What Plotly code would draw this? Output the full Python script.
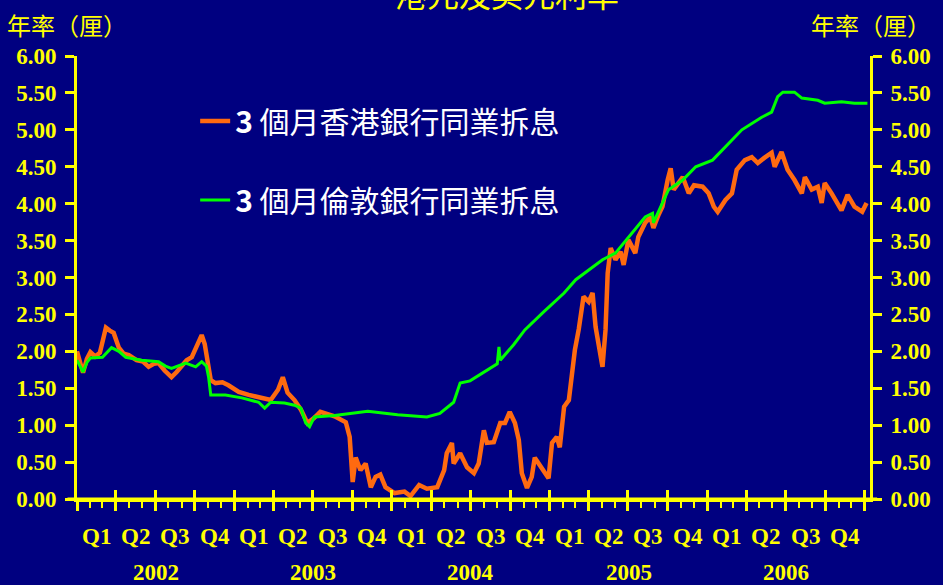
import plotly.graph_objects as go
import pandas as pd

# ---- data ----
hibor_dates = [
    "2002-01-01","2002-01-08","2002-01-15","2002-01-24","2002-02-01","2002-02-12","2002-02-23","2002-03-02",
    "2002-03-09","2002-03-18","2002-03-27","2002-04-08","2002-04-19","2002-05-01","2002-05-19","2002-06-03",
    "2002-06-16","2002-06-28","2002-07-09","2002-07-23","2002-08-08","2002-08-20","2002-08-29","2002-09-12",
    "2002-09-24","2002-10-05","2002-10-17","2002-10-24","2002-10-28","2002-11-07","2002-11-18","2002-12-04",
    "2002-12-18","2003-01-11","2003-02-03","2003-03-03","2003-03-26","2003-04-12","2003-04-23","2003-05-04",
    "2003-05-20","2003-06-04","2003-06-19","2003-07-05","2003-07-19","2003-08-05","2003-08-21","2003-09-16",
    "2003-09-25","2003-10-02","2003-10-09","2003-10-20","2003-11-01","2003-11-13","2003-11-24","2003-12-05",
    "2003-12-17","2004-01-07","2004-01-30","2004-02-13","2004-03-04","2004-03-22","2004-04-15","2004-05-01",
    "2004-05-07","2004-05-19","2004-05-23","2004-06-07","2004-06-23","2004-07-09","2004-07-20","2004-08-01",
    "2004-08-08","2004-08-24","2004-09-08","2004-09-19","2004-09-30","2004-10-12","2004-10-21","2004-10-28",
    "2004-11-09","2004-11-20","2004-11-27","2004-12-06","2004-12-17","2004-12-29","2005-01-06","2005-01-17",
    "2005-01-24","2005-02-03","2005-02-14","2005-02-21","2005-02-28","2005-03-09","2005-03-20","2005-04-01",
    "2005-04-10","2005-04-17","2005-04-29","2005-05-03","2005-05-10","2005-05-15","2005-05-22","2005-06-02",
    "2005-06-14","2005-06-21","2005-07-02","2005-07-11","2005-07-18","2005-07-25","2005-08-10","2005-08-22",
    "2005-08-29","2005-09-10","2005-09-19","2005-10-01","2005-10-08","2005-10-15","2005-11-05","2005-11-19",
    "2005-12-01","2005-12-21","2006-01-04","2006-01-16","2006-01-25","2006-02-12","2006-02-27","2006-03-10",
    "2006-03-29","2006-04-14","2006-04-28","2006-05-13","2006-05-30","2006-06-06","2006-06-22","2006-07-06",
    "2006-07-22","2006-08-08","2006-08-15","2006-08-31","2006-09-14","2006-09-23","2006-09-30","2006-10-16",
    "2006-11-08","2006-11-22","2006-12-08","2006-12-26","2007-01-05",
]
hibor_vals = [
    2.00, 1.85, 1.71, 1.90, 1.99, 1.93, 1.98, 2.15,
    2.32, 2.28, 2.25, 2.05, 1.97, 1.95, 1.88, 1.86,
    1.79, 1.83, 1.84, 1.74, 1.65, 1.72, 1.79, 1.88,
    1.92, 2.05, 2.22, 2.10, 1.98, 1.61, 1.57, 1.58,
    1.54, 1.45, 1.41, 1.37, 1.34, 1.48, 1.65, 1.44,
    1.34, 1.21, 1.03, 1.10, 1.18, 1.15, 1.12, 1.04,
    0.84, 0.23, 0.56, 0.39, 0.48, 0.16, 0.30, 0.33,
    0.16, 0.08, 0.10, 0.04, 0.19, 0.14, 0.16, 0.39,
    0.62, 0.76, 0.48, 0.62, 0.43, 0.35, 0.48, 0.93,
    0.76, 0.77, 1.03, 1.03, 1.18, 1.03, 0.80, 0.35,
    0.15, 0.30, 0.56, 0.48, 0.39, 0.28, 0.76, 0.84,
    0.70, 1.25, 1.34, 1.75, 2.02, 2.30, 2.74, 2.67,
    2.79, 2.33, 1.88, 1.79, 2.29, 3.06, 3.40, 3.24,
    3.35, 3.17, 3.51, 3.41, 3.33, 3.55, 3.74, 3.82,
    3.67, 3.85, 3.96, 4.32, 4.48, 4.19, 4.36, 4.14,
    4.25, 4.23, 4.14, 3.96, 3.89, 4.05, 4.14, 4.46,
    4.59, 4.63, 4.55, 4.62, 4.69, 4.50, 4.70, 4.46,
    4.32, 4.14, 4.36, 4.19, 4.23, 4.01, 4.28, 4.14,
    3.91, 4.12, 3.96, 3.89, 4.01,
]

libor_dates = [
    "2002-01-01","2002-01-15","2002-01-24","2002-02-01","2002-03-01","2002-03-22","2002-04-08","2002-04-24",
    "2002-05-31","2002-07-09","2002-07-25","2002-08-08","2002-09-10","2002-10-03","2002-10-17","2002-10-28",
    "2002-11-02","2002-11-07","2002-12-11","2003-01-18","2003-02-26","2003-03-12","2003-03-26","2003-04-27",
    "2003-05-20","2003-06-04","2003-06-15","2003-06-24","2003-07-05","2003-08-21","2003-11-06","2004-01-14",
    "2004-03-22","2004-04-21","2004-05-23","2004-06-07","2004-06-30","2004-08-01","2004-09-01","2004-09-05",
    "2004-09-08","2004-10-09","2004-11-04","2004-12-17","2005-02-03","2005-03-02","2005-04-01","2005-05-03",
    "2005-06-02","2005-07-11","2005-08-10","2005-08-27","2005-08-29","2005-09-19","2005-10-03","2005-11-05",
    "2005-12-05","2006-01-13","2006-02-12","2006-03-22","2006-05-07","2006-05-30","2006-06-13","2006-06-25",
    "2006-07-22","2006-08-08","2006-09-14","2006-09-30","2006-11-08","2006-12-08","2007-01-07",
]
libor_vals = [
    1.88, 1.72, 1.85, 1.91, 1.92, 2.05, 2.00, 1.92,
    1.88, 1.86, 1.80, 1.77, 1.84, 1.79, 1.86, 1.80,
    1.65, 1.41, 1.41, 1.37, 1.31, 1.23, 1.31, 1.30,
    1.27, 1.23, 1.03, 0.98, 1.11, 1.13, 1.19, 1.14,
    1.11, 1.16, 1.31, 1.57, 1.60, 1.72, 1.83, 2.06,
    1.88, 2.09, 2.29, 2.53, 2.79, 2.97, 3.10, 3.24,
    3.33, 3.60, 3.82, 3.87, 3.74, 4.01, 4.19, 4.32,
    4.50, 4.59, 4.77, 5.00, 5.17, 5.24, 5.45, 5.51,
    5.51, 5.43, 5.40, 5.36, 5.38, 5.36, 5.36,
]

years = [2002, 2003, 2004, 2005, 2006]
quarter_labels = ["Q1", "Q2", "Q3", "Q4"]
y_ticks = [0.0, 0.5, 1.0, 1.5, 2.0, 2.5, 3.0, 3.5, 4.0, 4.5, 5.0, 5.5, 6.0]

series_names = ["<b>3</b> 個月香港銀行同業拆息", "<b>3</b> 個月倫敦銀行同業拆息"]
title_text = "港元及美元利率"
axis_title = "年率（厘）"

# ---- styling ----
BG = "#000080"
YEL = "#FFFF00"
SERIF = "Liberation Serif"
CJK = "Noto Sans CJK TC"
x_range = ["2002-01-01", "2007-01-13"]

fig = go.Figure()
fig.add_trace(go.Scatter(
    x=hibor_dates, y=hibor_vals, mode="lines", name=series_names[0],
    line=dict(color="#FF6A10", width=4.5), legendgroup="a",
    xaxis="x", yaxis="y",
))
fig.add_trace(go.Scatter(
    x=libor_dates, y=libor_vals, mode="lines", name=series_names[1],
    line=dict(color="#00FF00", width=3), legendgroup="b",
    xaxis="x2", yaxis="y2",
))

# quarter and year labels
annotations = []
for yr in years:
    for qi, ql in enumerate(quarter_labels):
        start = pd.Timestamp(year=yr, month=3 * qi + 1, day=1)
        end = start + pd.DateOffset(months=3)
        mid = start + (end - start) / 2
        annotations.append(dict(
            x=mid.strftime("%Y-%m-%d %H:%M"), xref="x", y=-0.084, yref="paper",
            yanchor="middle", text=ql, showarrow=False,
            font=dict(family=SERIF, size=23, color=YEL, weight="bold"),
        ))
    ys = pd.Timestamp(year=yr, month=1, day=1)
    ye = pd.Timestamp(year=yr + 1, month=1, day=1)
    ymid = ys + (ye - ys) / 2
    annotations.append(dict(
        x=ymid.strftime("%Y-%m-%d %H:%M"), xref="x", y=-0.167, yref="paper",
        yanchor="middle", text=str(yr), showarrow=False,
        font=dict(family=SERIF, size=23, color=YEL, weight="bold"),
    ))

annotations.append(dict(
    x=-0.091, xref="paper", y=1.07, yref="paper", xanchor="left", yanchor="middle",
    text=axis_title, showarrow=False, font=dict(family=CJK, size=24, color=YEL),
))
annotations.append(dict(
    x=1.08, xref="paper", y=1.07, yref="paper", xanchor="right", yanchor="middle",
    text=axis_title, showarrow=False, font=dict(family=CJK, size=24, color=YEL),
))
annotations.append(dict(
    x=0.542, xref="paper", y=1.142, yref="paper", xanchor="center", yanchor="middle",
    text=title_text, showarrow=False, font=dict(family=CJK, size=32, color=YEL),
))

yaxis_common = dict(
    range=[0, 6], tickvals=y_ticks, tickformat=".2f",
    showline=True, linecolor=YEL, linewidth=3,
    ticks="outside", ticklen=9, tickwidth=3, tickcolor=YEL,
    showgrid=False, zeroline=False, fixedrange=True,
    tickfont=dict(family=SERIF, size=23, color=YEL, weight="bold"),
    ticklabelstandoff=4,
)

fig.update_layout(
    width=943, height=585,
    margin=dict(l=77, r=67, t=56, b=86),
    paper_bgcolor=BG, plot_bgcolor=BG,
    showlegend=True,
    legend=dict(
        x=0.149, y=0.912, xanchor="left", yanchor="top",
        bgcolor="rgba(0,0,0,0)", font=dict(family=CJK, size=30, color="white"),
        tracegroupgap=37, traceorder="grouped", itemwidth=30,
    ),
    xaxis=dict(
        type="date", range=x_range, showline=True, linecolor=YEL, linewidth=3,
        ticks="outside", ticklen=9, tickwidth=3, tickcolor=YEL,
        tick0="2002-01-01", dtick="M3", showticklabels=False,
        showgrid=False, zeroline=False,
        minor=dict(ticks="outside", ticklen=6, tickwidth=2, tickcolor=YEL,
                   dtick="M1", tick0="2002-01-01", showgrid=False),
    ),
    xaxis2=dict(
        type="date", range=x_range, overlaying="x", anchor="y",
        ticks="inside", ticklen=9, tickwidth=3, tickcolor=YEL,
        tick0="2002-01-01", dtick="M3", showticklabels=False,
        showgrid=False, zeroline=False, showline=False,
    ),
    yaxis=dict(side="left", **yaxis_common),
    yaxis2=dict(side="right", overlaying="y", anchor="x", **yaxis_common),
    annotations=annotations,
    shapes=[dict(type="line", xref="paper", yref="paper", x0=-0.012, x1=1.009, y0=0, y1=0,
                 line=dict(color=YEL, width=3), layer="above")],
)

fig.write_html(
    "out.html",
    config={"displayModeBar": False},
    post_script="document.body.style.margin='0';document.body.style.background='#000080';",
)
